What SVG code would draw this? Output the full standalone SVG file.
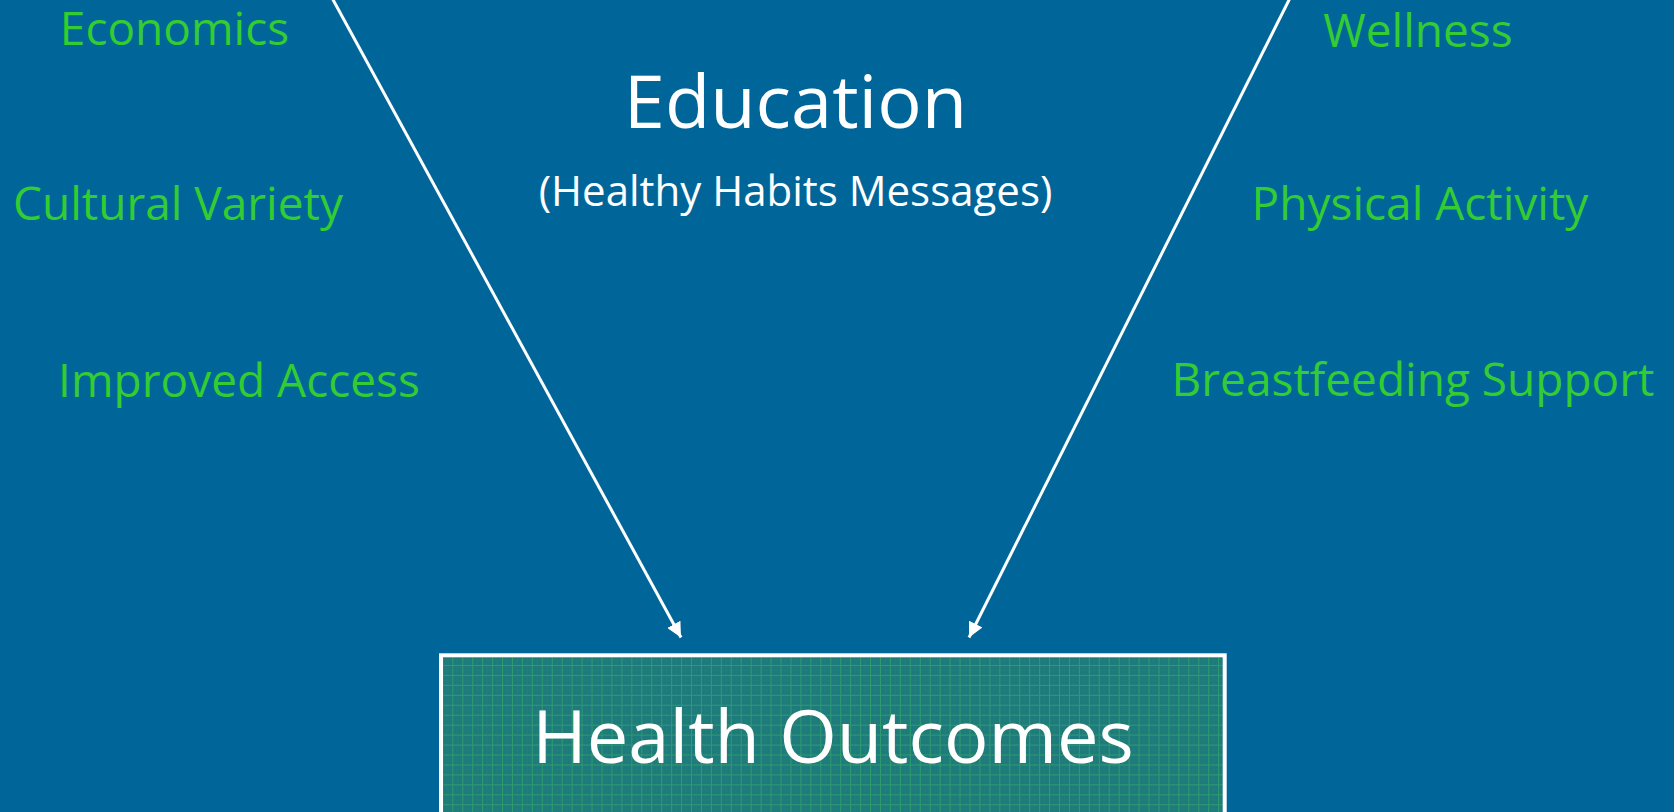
<svg xmlns="http://www.w3.org/2000/svg" width="1674" height="812" viewBox="0 0 1674 812">
  <style>
    .factor { font-family: "Open Sans", "Liberation Sans", sans-serif; font-size: 46px; fill: #33CC33; text-anchor: middle; }
    .title { font-family: "Open Sans", "Liberation Sans", sans-serif; fill: #FFFFFF; text-anchor: middle; }
    .link { stroke: #FFFFFF; stroke-width: 3; fill: none; marker-end: url(#arrow); }
  </style>
  <defs>
    <marker id="arrow" viewBox="0 0 10 10" refX="10" refY="5" markerWidth="5" markerHeight="5" markerUnits="strokeWidth" orient="auto">
      <path d="M0,0 L10,5 L0,10 Z" fill="#FFFFFF"/>
    </marker>
    <pattern id="grid" patternUnits="userSpaceOnUse" x="452.3" y="665" width="9.946" height="9.946">
      <rect width="9.946" height="9.946" fill="#1E7B7C"/>
      <rect x="4.9" y="0" width="0.6" height="9.946" fill="#23847A" opacity="0.6"/>
      <rect x="0" y="4.9" width="9.946" height="0.6" fill="#23847A" opacity="0.6"/>
      <rect x="0" y="0" width="1" height="9.946" fill="#2E9B6E"/>
      <rect x="0" y="0" width="9.946" height="1" fill="#2E9B6E"/>
    </pattern>
  </defs>

  <rect x="0" y="0" width="1674" height="812" fill="#006699"/>

  <!-- left-hand influences -->
  <g id="economics"><text class="factor" x="174.5" y="45">Economics</text></g>
  <g id="cultural-variety"><text class="factor" x="178" y="220">Cultural Variety</text></g>
  <g id="improved-access"><text class="factor" x="239" y="397">Improved Access</text></g>

  <!-- right-hand influences -->
  <g id="wellness"><text class="factor" x="1418" y="47">Wellness</text></g>
  <g id="physical-activity"><text class="factor" x="1420" y="220">Physical Activity</text></g>
  <g id="breastfeeding-support"><text class="factor" x="1413" y="396">Breastfeeding Support</text></g>

  <!-- central education node -->
  <g id="education">
    <text class="title" x="795.5" y="128" font-size="74">Education</text>
    <text class="title" x="795.5" y="206" font-size="42">(Healthy Habits Messages)</text>
  </g>

  <!-- outcome box -->
  <g id="health-outcomes">
    <rect x="441" y="655.3" width="783.7" height="170" fill="url(#grid)" stroke="#FFFFFF" stroke-width="4"/>
    <text class="title" x="833" y="763" font-size="74">Health Outcomes</text>
  </g>

  <!-- connectors -->
  <g id="connectors">
    <line class="link" x1="331" y1="-4" x2="681" y2="637.5"/>
    <line class="link" x1="1291" y1="-4" x2="969" y2="637.5"/>
  </g>
</svg>
